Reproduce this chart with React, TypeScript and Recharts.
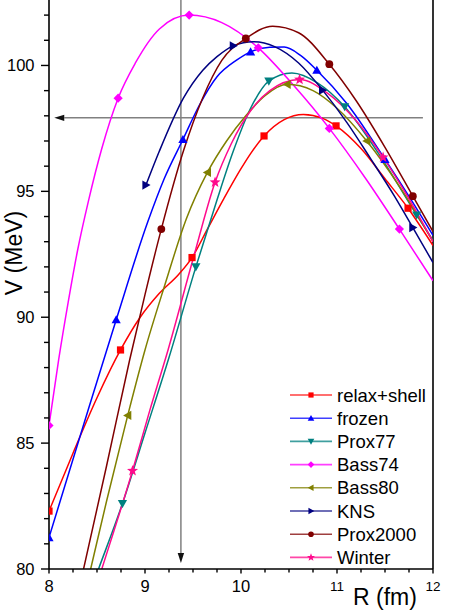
import React from "react";
import { Legend, Line, LineChart, ReferenceLine, XAxis, YAxis } from "recharts";

// R (fm) values and barrier heights V (MeV)
const relaxX = [8.0, 8.25, 8.5, 8.745, 8.95, 9.15, 9.35, 9.49, 9.65, 9.82, 10.0, 10.1, 10.24, 10.45, 10.65, 10.85, 10.99, 11.25, 11.5, 11.74, 12.0];
const relaxV = [82.3, 84.6, 86.8, 88.7, 90.0, 90.95, 91.7, 92.37, 93.5, 94.7, 95.9, 96.5, 97.2, 97.85, 98.05, 97.9, 97.6, 96.7, 95.5, 94.33, 92.85];
const relaxMarks = [8.0, 8.745, 9.49, 10.24, 10.99, 11.74];

const frozenX = [8.0, 8.35, 8.7, 9.03, 9.2, 9.395, 9.57, 9.75, 9.95, 10.1, 10.3, 10.45, 10.62, 10.79, 11.1, 11.5, 11.75, 12.0];
const frozenV = [81.25, 85.6, 89.9, 93.8, 95.5, 97.06, 98.45, 99.55, 100.2, 100.54, 100.72, 100.73, 100.4, 99.81, 98.5, 96.27, 94.8, 93.25];
const frozenMarks = [8.0, 8.7, 9.395, 10.1, 10.79, 11.5];

const prox77X = [8.4, 8.516, 8.765, 9.0, 9.25, 9.53, 9.745, 9.92, 10.1, 10.29, 10.53, 10.8, 11.08, 11.45, 11.83, 12.0];
const prox77V = [78.8, 80.0, 82.6, 85.4, 88.4, 92.0, 94.6, 96.6, 98.3, 99.38, 99.7, 99.3, 98.36, 96.4, 94.06, 93.05];
const prox77Marks = [8.765, 9.53, 10.29, 11.08, 11.83];

const bass74X = [8.0, 8.1, 8.2, 8.3, 8.41, 8.55, 8.72, 8.9, 9.15, 9.46, 9.8, 10.18, 10.55, 10.92, 11.3, 11.65, 12.0];
const bass74V = [85.7, 88.3, 90.6, 92.7, 94.6, 96.7, 98.7, 100.1, 101.45, 102.0, 101.7, 100.7, 99.2, 97.5, 95.5, 93.5, 91.45];
const bass74Marks = [8.0, 8.72, 9.46, 10.18, 10.92, 11.65];

const bass80X = [8.3, 8.434, 8.6, 8.82, 9.0, 9.2, 9.43, 9.65, 9.85, 10.05, 10.25, 10.48, 10.75, 11.0, 11.31, 11.65, 12.0];
const bass80V = [77.8, 80.0, 82.7, 86.1, 88.7, 91.2, 93.9, 95.75, 97.0, 98.0, 98.8, 99.25, 99.0, 98.3, 97.0, 95.2, 93.0];
const bass80Marks = [8.82, 9.65, 10.48, 11.31];

const knsX = [9.01, 9.15, 9.4, 9.6, 9.75, 9.92, 10.13, 10.35, 10.6, 10.85, 11.1, 11.35, 11.6, 11.79, 12.0];
const knsV = [95.25, 96.6, 98.7, 99.8, 100.35, 100.78, 100.94, 100.75, 100.1, 99.02, 97.75, 96.3, 94.8, 93.56, 92.17];
const knsMarks = [9.01, 9.92, 10.85, 11.79];

const prox2000X = [8.2, 8.36, 8.6, 8.84, 9.0, 9.17, 9.4, 9.6, 9.8, 10.05, 10.33, 10.6, 10.92, 11.2, 11.5, 11.79, 12.0];
const prox2000V = [77.3, 80.0, 84.1, 88.3, 90.9, 93.5, 96.6, 98.7, 100.2, 101.07, 101.56, 101.3, 100.05, 98.6, 96.75, 94.81, 93.4];
const prox2000Marks = [9.17, 10.05, 10.92, 11.79];

const winterX = [8.4, 8.55, 8.87, 9.05, 9.24, 9.5, 9.73, 9.9, 10.1, 10.3, 10.61, 10.9, 11.2, 11.48, 11.75, 12.0];
const winterV = [78.2, 80.0, 83.9, 86.3, 88.7, 92.3, 95.36, 96.9, 98.2, 99.0, 99.44, 98.9, 97.8, 96.35, 94.7, 93.0];
const winterMarks = [8.87, 9.73, 10.61, 11.48];

// axis ticks
const xMajor = [8, 9, 10, 11, 12];
const xTicks = Array.from({ length: 17 }, (_, i) => 8 + i * 0.25);
const yMajor = [80, 85, 90, 95, 100];
const yTicks = Array.from({ length: 23 }, (_, i) => 80 + i);

// the two guide arrows (data coords)
const arrowV = 97.92;
const arrowR = 9.374;

const FONT = "'Liberation Sans', Arial, sans-serif";

const zip = (xs: number[], vs: number[]) => xs.map((x, i) => ({ x, v: vs[i] }));

const series = [
  { name: "relax+shell", color: "#FF0000", kind: "square", data: zip(relaxX, relaxV), marks: relaxMarks },
  { name: "frozen", color: "#0000FF", kind: "up", data: zip(frozenX, frozenV), marks: frozenMarks },
  { name: "Prox77", color: "#008080", kind: "down", data: zip(prox77X, prox77V), marks: prox77Marks },
  { name: "Bass74", color: "#FF00FF", kind: "diamond", data: zip(bass74X, bass74V), marks: bass74Marks },
  { name: "Bass80", color: "#808000", kind: "left", data: zip(bass80X, bass80V), marks: bass80Marks },
  { name: "KNS", color: "#000080", kind: "right", data: zip(knsX, knsV), marks: knsMarks },
  { name: "Prox2000", color: "#800000", kind: "circle", data: zip(prox2000X, prox2000V), marks: prox2000Marks },
  { name: "Winter", color: "#FF0A8C", kind: "star", data: zip(winterX, winterV), marks: winterMarks },
];

function Marker({ kind, cx, cy, color, s = 1 }: { kind: string; cx: number; cy: number; color: string; s?: number }) {
  const a = 4.6 * s;
  const b = 3.6 * s;
  switch (kind) {
    case "square":
      return <rect x={cx - 3.6 * s} y={cy - 3.6 * s} width={7.2 * s} height={7.2 * s} fill={color} />;
    case "up":
      return <polygon points={`${cx},${cy - a} ${cx + a},${cy + b} ${cx - a},${cy + b}`} fill={color} />;
    case "down":
      return <polygon points={`${cx},${cy + a} ${cx + a},${cy - b} ${cx - a},${cy - b}`} fill={color} />;
    case "left":
      return <polygon points={`${cx - a},${cy} ${cx + b},${cy - a} ${cx + b},${cy + a}`} fill={color} />;
    case "right":
      return <polygon points={`${cx + a},${cy} ${cx - b},${cy - a} ${cx - b},${cy + a}`} fill={color} />;
    case "diamond":
      return <polygon points={`${cx},${cy - a} ${cx + a},${cy} ${cx},${cy + a} ${cx - a},${cy}`} fill={color} />;
    case "circle":
      return <circle cx={cx} cy={cy} r={3.9 * s} fill={color} />;
    default: {
      const pts: string[] = [];
      for (let i = 0; i < 10; i++) {
        const r = i % 2 === 0 ? 5.8 * s : 2.4 * s;
        const ang = -Math.PI / 2 + (i * Math.PI) / 5;
        pts.push(`${cx + r * Math.cos(ang)},${cy + r * Math.sin(ang)}`);
      }
      return <polygon points={pts.join(" ")} fill={color} />;
    }
  }
}

function Arrow(props: any) {
  const { x1, y1, x2, y2 } = props;
  const dx = x2 - x1;
  const dy = y2 - y1;
  const len = Math.sqrt(dx * dx + dy * dy) || 1;
  const ux = dx / len;
  const uy = dy / len;
  const hl = 10;
  const hw = 3.2;
  const bx = x2 - ux * hl;
  const by = y2 - uy * hl;
  return (
    <g>
      <line x1={x1} y1={y1} x2={bx} y2={by} stroke="#808080" strokeWidth={1.5} />
      <polygon
        points={`${x2},${y2} ${bx - uy * hw},${by + ux * hw} ${bx + uy * hw},${by - ux * hw}`}
        fill="#111"
      />
    </g>
  );
}

function XTick(props: any) {
  const { x, y, payload } = props;
  const v = payload.value;
  const major = xMajor.includes(v);
  const small = v >= 11;
  return (
    <g>
      <line x1={x} y1={y} x2={x} y2={y + (major ? 4.5 : 3.5)} stroke="#000" strokeWidth={1.4} />
      {major && (
        <text x={x} y={small ? y + 22 : y + 22.5} textAnchor="middle" fontSize={small ? 13.5 : 16.5} fill="#000">
          {v}
        </text>
      )}
    </g>
  );
}

function YTick(props: any) {
  const { x, y, payload } = props;
  const v = payload.value;
  const major = yMajor.includes(v);
  return (
    <g>
      <line x1={x - (major ? 8 : 5)} y1={y} x2={x} y2={y} stroke="#000" strokeWidth={1.4} />
      {major && (
        <text x={x - 14.5} y={y + 6} textAnchor="end" fontSize={16.5} fill="#000">
          {v}
        </text>
      )}
    </g>
  );
}

function LegendBox() {
  return (
    <svg width={170} height={190} style={{ display: "block", overflow: "visible" }}>
      {series.map((s, i) => {
        const cy = 12 + i * 23.2;
        return (
          <g key={s.name}>
            <line x1={5} y1={cy} x2={47} y2={cy} stroke={s.color} strokeWidth={1.6} opacity={0.75} />
            <Marker kind={s.kind} cx={26} cy={cy} color={s.color} s={0.72} />
            <text x={52} y={cy + 6.5} fontSize={18.5} fill="#000" fontFamily={FONT}>
              {s.name}
            </text>
          </g>
        );
      })}
    </svg>
  );
}

export default function App() {
  return (
    <div
      style={{
        position: "absolute",
        left: 0,
        top: 0,
        width: 474,
        height: 614,
        background: "#fff",
        fontFamily: FONT,
      }}
    >
      <LineChart width={474} height={614} margin={{ top: 0, right: 41, bottom: 0, left: 0 }}>
        <XAxis
          type="number"
          dataKey="x"
          domain={[8, 12]}
          ticks={xTicks}
          interval={0}
          allowDataOverflow
          height={45}
          tickSize={0}
          tickMargin={0}
          tickLine={false}
          axisLine={{ stroke: "#000", strokeWidth: 1.6 }}
          tick={(p: any) => <XTick {...p} />}
          label={() => (
            <text x={385} y={605} textAnchor="middle" fontSize={23} fill="#000">
              R (fm)
            </text>
          )}
        />
        <YAxis
          type="number"
          domain={[80, 102.6]}
          ticks={yTicks}
          interval={0}
          allowDataOverflow
          width={49}
          tickSize={0}
          tickMargin={0}
          tickLine={false}
          axisLine={{ stroke: "#000", strokeWidth: 1.6 }}
          tick={(p: any) => <YTick {...p} />}
          label={() => (
            <text x={22} y={253} transform="rotate(-90 22 253)" textAnchor="middle" fontSize={23} fill="#000">
              V (MeV)
            </text>
          )}
        />
        <ReferenceLine x={12} stroke="#000" strokeWidth={1.6} />
        <ReferenceLine
          segment={[
            { x: 11.895, y: arrowV },
            { x: 8.055, y: arrowV },
          ]}
          shape={(p: any) => <Arrow {...p} />}
        />
        <ReferenceLine
          segment={[
            { x: arrowR, y: 102.6 },
            { x: arrowR, y: 80.24 },
          ]}
          shape={(p: any) => <Arrow {...p} />}
        />
        {series.map((s) => (
          <Line
            key={s.name}
            data={s.data}
            dataKey="v"
            name={s.name}
            type="monotone"
            stroke={s.color}
            strokeWidth={1.5}
            isAnimationActive={false}
            activeDot={false}
            dot={(p: any) =>
              s.marks.includes(p.payload.x) ? (
                <Marker key={`${s.name}-${p.index}`} kind={s.kind} cx={p.cx} cy={p.cy} color={s.color} />
              ) : (
                <g key={`${s.name}-${p.index}`} />
              )
            }
          />
        ))}
        <Legend
          layout="vertical"
          align="center"
          verticalAlign="middle"
          wrapperStyle={{ left: 285, top: 383, width: 170 }}
          content={() => <LegendBox />}
        />
      </LineChart>
    </div>
  );
}
